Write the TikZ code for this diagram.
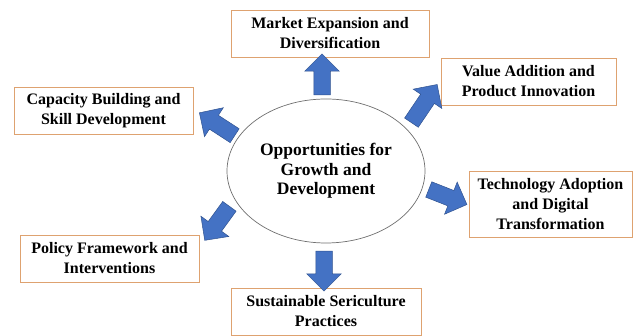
\documentclass[tikz,border=0pt]{standalone}
\usepackage{fontspec}
\setmainfont{Liberation Serif}
\usetikzlibrary{shapes.arrows,shapes.geometric}
\begin{document}
\begin{tikzpicture}[x=1pt,y=1pt,
  box/.style={draw=boxline, line width=0.9pt, fill=white, align=center, inner sep=0pt, minimum height=47, font=\fontsize{16}{20}\selectfont\bfseries},
  hub/.style={draw=hubline, line width=0.7pt, ellipse, inner sep=0pt, align=center, font=\fontsize{17.5}{19.5}\selectfont\bfseries},
  blockarrow/.style={single arrow, draw=arrowline, fill=arrowfill, line width=0.5pt, inner xsep=0pt, inner ysep=8pt, single arrow head extend=9, single arrow head indent=0}]
\definecolor{boxline}{RGB}{222,162,112}
\definecolor{hubline}{RGB}{110,110,110}
\definecolor{arrowfill}{RGB}{68,114,196}
\definecolor{arrowline}{RGB}{47,82,143}
\useasboundingbox (0,0) rectangle (635,336);
\node[hub, minimum width=198, minimum height=144] (hub) at (326,165) {Opportunities for\\Growth and\\Development};
\node[box, minimum width=198] (market) at (330,302.5) {Market Expansion and\\Diversification};
\node[box, minimum width=175] (value) at (528.5,254.5) {Value Addition and\\Product Innovation};
\node[box, minimum width=179] (capacity) at (103.5,225.5) {Capacity Building and\\Skill Development};
\node[box, minimum width=163, minimum height=66] (tech) at (550.5,132) {Technology Adoption\\and Digital\\Transformation};
\node[box, minimum width=179] (policy) at (109.5,77.5) {Policy Framework and\\Interventions};
\node[box, minimum width=190] (sustain) at (326,24.5) {Sustainable Sericulture\\Practices};
\node[blockarrow, minimum height=41, rotate=90] (toMarket) at (322,257.5) {};
\node[blockarrow, minimum height=46, rotate=56] (toValue) at (422,229) {};
\node[blockarrow, minimum height=42, rotate=147] (toCapacity) at (220.5,209.5) {};
\node[blockarrow, minimum height=41, rotate=-21.5] (toTech) at (444,140.5) {};
\node[blockarrow, minimum height=42, rotate=234] (toPolicy) at (219.5,116) {};
\node[blockarrow, minimum height=40, rotate=-90] (toSustain) at (324,69) {};
\end{tikzpicture}
\end{document}
